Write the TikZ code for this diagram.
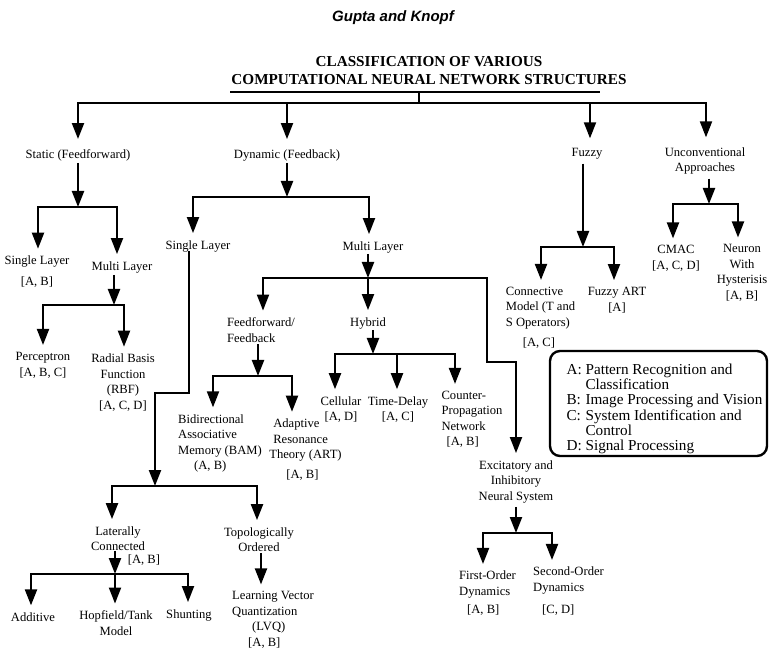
\documentclass[tikz,border=0pt]{standalone}
\usepackage{fontspec}
\setmainfont{Liberation Serif}
\newfontfamily\hdrfont{Liberation Sans}
\usetikzlibrary{arrows.meta,calc}
\begin{document}
\begin{tikzpicture}[x=1pt,y=-1pt,
  lbl/.style={font=\fontsize{12.6}{15.5}\selectfont, align=center, inner xsep=1pt, inner ysep=7pt},
  conn/.style={line width=2.1pt},
  arr/.style={conn, -{Triangle[width=12pt,length=16pt]}},
  arrs/.style={conn, {Triangle[width=12pt,length=16pt]}-{Triangle[width=12pt,length=16pt]}},
]
\fill[white] (0,0) rectangle (780,655);
\useasboundingbox (0,0) rectangle (780,655);

% header and title
\node[font={\hdrfont\fontsize{15}{18}\selectfont\bfseries\itshape}] (hdr) at (393,18) {Gupta and Knopf};
\node[font={\fontsize{15.2}{18}\selectfont\bfseries}, align=center, inner ysep=7pt] (title) at (429,71)
  {CLASSIFICATION OF VARIOUS\\COMPUTATIONAL NEURAL NETWORK STRUCTURES};
\draw[line width=2.2pt] (230,92) -- (600,92);

% level 1
\node[lbl] (static) at (78,155) {Static (Feedforward)};
\node[lbl] (dyn) at (287,155) {Dynamic (Feedback)};
\node[lbl] (fuzzy) at (587,154) {Fuzzy};
\node[lbl] (unc) at (705,161) {Unconventional\\Approaches};

% static subtree
\node[lbl] (sl1) at (37,271.5) {Single Layer\\[5pt][A, B]};
\node[lbl] (ml1) at (122,267) {Multi Layer};
\node[lbl] (perc) at (43,365.5) {Perceptron\\[1pt][A, B, C]};
\node[lbl] (rbf) at (123,382.5) {Radial Basis\\Function\\(RBF)\\{[A, C, D]}};

% dynamic subtree
\node[lbl] (sl2) at (198,246) {Single Layer};
\node[lbl] (ml2) at (373,247) {Multi Layer};
\node[lbl,align=left] (fffb) at (261,330) {Feedforward/\\Feedback};
\node[lbl] (hyb) at (368,323) {Hybrid};
\node[lbl,align=left] (bam) at (220,443.5) {Bidirectional\\Associative\\Memory (BAM)\\\hspace*{16pt}(A, B)};
\node[lbl,align=left] (art) at (305.5,449.5) {\hspace*{4pt}Adaptive\\\hspace*{4pt}Resonance\\Theory (ART)\\[4pt]\hspace*{17pt}[A, B]};
\node[lbl] (cell) at (341,409.5) {Cellular\\{[A, D]}};
\node[lbl] (td) at (398,409.5) {Time-Delay\\{[A, C]}};
\node[lbl,align=left] (cpn) at (472,419.5) {Counter-\\Propagation\\Network\\\hspace*{5pt}[A, B]};
\node[lbl] (exc) at (516,481.5) {Excitatory and\\Inhibitory\\Neural System};
\node[lbl,align=left] (fod) at (487.5,593.5) {First-Order\\Dynamics\\[3pt]\hspace*{8pt}[A, B]};
\node[lbl,align=left] (sod) at (568.5,591.5) {Second-Order\\Dynamics\\[7pt]\hspace*{9pt}[C, D]};
\node[lbl] (lat) at (118,538.5) {Laterally\\Connected};
\node[lbl,inner ysep=2pt] (latab) at (144,560) {[A, B]};
\node[lbl] (add) at (33,617) {Additive};
\node[lbl] (hop) at (116,623) {Hopfield/Tank\\Model};
\node[lbl] (shu) at (189,615) {Shunting};
\node[lbl] (topo) at (259,539.5) {Topologically\\Ordered};
\node[lbl,align=left] (lvq) at (273,620) {Learning Vector\\Quantization\\\hspace*{20pt}(LVQ)\\\hspace*{16pt}[A, B]};

% fuzzy subtree
\node[lbl,align=left] (con) at (540.5,318) {Connective\\Model (T and\\S Operators)\\[5pt]\hspace*{17pt}[A, C]};
\node[lbl] (fart) at (617,300) {Fuzzy ART\\{[A]}};

% unconventional subtree
\node[lbl] (cmac) at (676,258.5) {CMAC\\{[A, C, D]}};
\node[lbl] (neu) at (742,273) {Neuron\\With\\Hysterisis\\{[A, B]}};

% legend
\node[draw, line width=2.4pt, rounded corners=10pt, minimum width=217pt, minimum height=105pt,
      inner sep=0pt, font=\fontsize{15.2}{15}\selectfont] (leg) at (658.5,403.5)
  {\raisebox{-6pt}[\height][\depth]{\begin{tabular}{@{\hspace*{12pt}}l@{\hspace{3.8pt}}l@{}}
   A: & Pattern Recognition and\\
      & Classification\\
   B: & Image Processing and Vision\\
   C: & System Identification and\\
      & Control\\
   D: & Signal Processing
   \end{tabular}}};

% root connectors
\coordinate (r0) at (419,103);
\coordinate (rA) at (78,103);
\coordinate (rB) at (287,103);
\coordinate (rC) at (590,103);
\coordinate (rD) at (706,103);
\draw[conn] (title.south -| r0) -- (r0);
\draw[arrs] ([yshift=3pt]static.north -| rA) -- (rA) -- (rD) -- ([yshift=3pt]unc.north -| rD);
\draw[arr] (rB) -- ([yshift=3pt]dyn.north -| rB);
\draw[arr] (rC) -- ([yshift=3pt]fuzzy.north -| rC);

% static
\coordinate (sJ) at (78,207);
\coordinate (sL) at (38,207);
\coordinate (sR) at (117,207);
\draw[arr] ($(static.south -| sJ)+(0,-5)$) -- (sJ);
\draw[arrs] (sl1.north -| sL) -- (sL) -- (sR) -- (ml1.north -| sR);
\coordinate (mJ) at (114,305);
\coordinate (mL) at (43,305);
\coordinate (mR) at (124,305);
\draw[arr] ($(ml1.south -| mJ)+(0,-5)$) -- (mJ);
\draw[arrs] (perc.north -| mL) -- (mL) -- (mR) -- (rbf.north -| mR);

% dynamic
\coordinate (dJ) at (287,197);
\coordinate (dL) at (193,197);
\coordinate (dR) at (369,197);
\draw[arr] ($(dyn.south -| dJ)+(0,-5)$) -- (dJ);
\draw[arrs] (sl2.north -| dL) -- (dL) -- (dR) -- (ml2.north -| dR);

% multi layer (dynamic)
\coordinate (eJ) at (368,278);
\coordinate (eL) at (263,278);
\coordinate (eR) at (487,278);
\coordinate (eK) at (487,362);
\draw[arr] ($(ml2.south -| eJ)+(0,-6)$) -- (eJ);
\draw[arrs] (fffb.north -| eL) -- (eL) -- (eR) -- (eK) -| (exc.north);
\draw[arr] (eJ) -- (hyb.north -| eJ);

% feedforward/feedback
\coordinate (fJ) at (258,376);
\coordinate (fL) at (213,376);
\coordinate (fR) at (292,376);
\draw[arr] ($(fffb.south -| fJ)+(0,-5)$) -- (fJ);
\draw[arrs] (bam.north -| fL) -- (fL) -- (fR) -- (art.north -| fR);

% hybrid
\coordinate (hJ) at (373,354);
\coordinate (hL) at (335,354);
\coordinate (hM) at (397,354);
\coordinate (hR) at (455,354);
\draw[arr] ($(hyb.south -| hJ)+(0,-6)$) -- (hJ);
\draw[arrs] (cell.north -| hL) -- (hL) -- (hR) -- (cpn.north -| hR);
\draw[arr] (hM) -- (td.north -| hM);

% excitatory
\coordinate (xJ) at (516,533);
\coordinate (xL) at (483,533);
\coordinate (xR) at (552,533);
\draw[arr] ($(exc.south -| xJ)+(0,-3)$) -- (xJ);
\draw[arrs] (fod.north -| xL) -- (xL) -- (xR) -- (sod.north -| xR);

% single layer (dynamic)
\coordinate (gA) at (189,393);
\coordinate (gB) at (155,393);
\coordinate (gJ) at (155,486);
\coordinate (gL) at (112,486);
\coordinate (gR) at (257,486);
\draw[arr] ($(sl2.south -| gA)+(0,-8)$) -- (gA) -- (gB) -- (gJ);
\draw[arrs] (lat.north -| gL) -- (gL) -- (gR) -- (topo.north -| gR);

% laterally connected
\coordinate (lJ) at (115,574);
\coordinate (lL) at (31,574);
\coordinate (lR) at (188,574);
\draw[arr] ($(lat.south -| lJ)+(0,-7)$) -- (lJ);
\draw[arrs] (add.north -| lL) -- (lL) -- (lR) -- (shu.north -| lR);
\draw[arr] (lJ) -- (hop.north -| lJ);

% topologically ordered
\coordinate (tX) at (261,560);
\draw[arr] ($(topo.south -| tX)+(0,-6)$) -- (lvq.north -| tX);

% fuzzy
\coordinate (zJ) at (583,247);
\coordinate (zL) at (541,247);
\coordinate (zR) at (614,247);
\draw[arr] ($(fuzzy.south -| zJ)+(0,-3)$) -- (zJ);
\draw[arrs] (con.north -| zL) -- (zL) -- (zR) -- (fart.north -| zR);

% unconventional
\coordinate (uJ) at (709,204);
\coordinate (uL) at (673,204);
\coordinate (uR) at (738,204);
\draw[arr] ($(unc.south -| uJ)+(0,-3)$) -- (uJ);
\draw[arrs] (cmac.north -| uL) -- (uL) -- (uR) -- (neu.north -| uR);
\end{tikzpicture}
\end{document}
